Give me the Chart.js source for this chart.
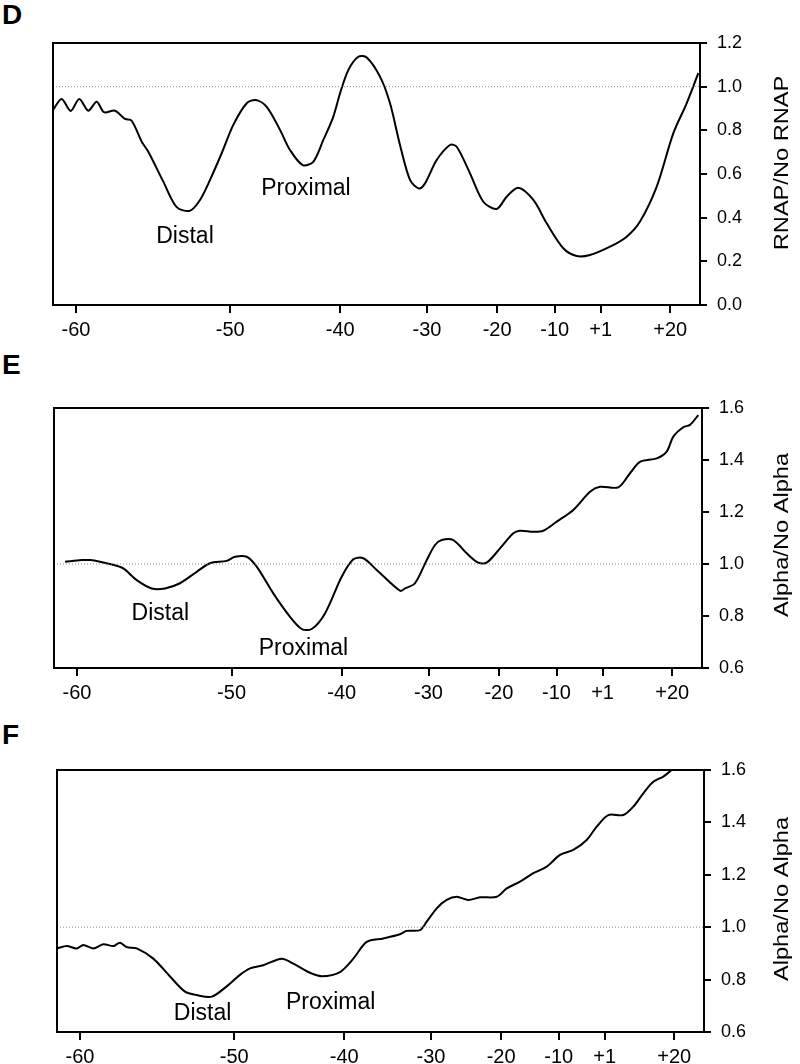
<!DOCTYPE html>
<html>
<head>
<meta charset="utf-8">
<title>RNAP / Alpha footprint ratios</title>
<script src="https://cdn.jsdelivr.net/npm/chart.js@4.4.0/dist/chart.umd.min.js"></script>
<style>
  body { margin: 0; background: #fff; }
  #page { position: relative; width: 800px; height: 1064px; font-family: "Liberation Sans", Arial, sans-serif; }
  .panel { position: absolute; left: 0; width: 800px; }
  .letter { position: absolute; left: 2px; font-size: 28px; font-weight: bold; line-height: 1; color: #000; }
</style>
</head>
<body>
<div id="page">
  <div class="letter" style="top:1px">D</div>
  <div class="panel" style="top:0;height:345px"><canvas id="chartD"></canvas></div>
  <div class="letter" style="top:351px">E</div>
  <div class="panel" style="top:345px;height:365px"><canvas id="chartE"></canvas></div>
  <div class="letter" style="top:721px">F</div>
  <div class="panel" style="top:710px;height:354px"><canvas id="chartF"></canvas></div>
</div>

<script>
// ----------------------------
// DATA (x = position along the gel lane, 0-100)
// ----------------------------
const tickLabels = ["-60", "-50", "-40", "-30", "-20", "-10", "+1", "+20"];
const tickPos = [3.55, 27.4, 44.4, 57.8, 68.65, 77.55, 84.65, 95.4];

const dPos = [0, 1.34, 2.74, 4.06, 5.46, 6.75, 7.88, 9.58, 11.13, 12.16,
  13.71, 14.73, 17.05, 19.12, 21.17, 22.72, 24.27, 26.07, 27.87, 29.94,
  31.38, 33.03, 35.09, 36.63, 38.59, 40.23, 41.78, 43.32, 44.36, 45.64,
  47.19, 48.49, 50.54, 52.09, 53.63, 55.18, 56.57, 57.5, 59.3, 61.36,
  62.4, 64.45, 66.51, 68.58, 70.12, 71.92, 74.24, 76.31, 78.87, 80.94,
  83.0, 86.09, 88.67, 90.73, 93.31, 95.87, 97.94, 99.74];
const dVal = [0.893, 0.944, 0.889, 0.944, 0.89, 0.931, 0.883, 0.89, 0.852, 0.844,
  0.748, 0.702, 0.565, 0.448, 0.432, 0.481, 0.573, 0.695, 0.825, 0.924,
  0.939, 0.908, 0.802, 0.71, 0.641, 0.656, 0.756, 0.862, 0.969, 1.076,
  1.137, 1.134, 1.046, 0.924, 0.733, 0.573, 0.534, 0.557, 0.664, 0.733,
  0.725, 0.603, 0.473, 0.44, 0.496, 0.537, 0.481, 0.374, 0.26, 0.224,
  0.229, 0.267, 0.313, 0.382, 0.542, 0.786, 0.924, 1.062];

const ePos = [1.7, 4.27, 5.56, 7.1, 8.64, 10.69, 12.76, 15.08, 17.13, 19.44,
  22.02, 24.07, 26.65, 27.93, 29.74, 31.28, 33.84, 36.42, 38.22, 39.77,
  41.82, 44.4, 46.19, 47.73, 49.8, 53.4, 54.17, 55.71, 57.52, 58.8,
  59.83, 61.62, 63.69, 65.48, 66.77, 68.83, 70.88, 71.91, 73.97, 75.51,
  77.58, 80.14, 82.72, 84.26, 87.08, 88.89, 90.43, 93.01, 94.55, 95.57,
  97.11, 98.15, 99.43];
const eVal = [1.009, 1.015, 1.015, 1.009, 1.0, 0.983, 0.938, 0.906, 0.906, 0.926,
  0.97, 1.003, 1.012, 1.028, 1.028, 0.99, 0.887, 0.797, 0.75, 0.75,
  0.81, 0.951, 1.018, 1.022, 0.977, 0.897, 0.906, 0.926, 1.015, 1.073,
  1.092, 1.092, 1.041, 1.005, 1.005, 1.06, 1.118, 1.128, 1.124, 1.128,
  1.163, 1.208, 1.278, 1.297, 1.295, 1.349, 1.393, 1.406, 1.432, 1.49,
  1.526, 1.535, 1.573];

const fPos = [0, 1.5, 3.04, 4.06, 5.61, 7.16, 8.7, 9.74, 10.77, 12.32,
  14.88, 17.47, 19.78, 21.59, 23.91, 26.23, 28.28, 29.83, 31.89, 34.73,
  36.52, 39.1, 40.91, 43.74, 45.8, 47.87, 50.43, 53.01, 54.05, 56.11,
  57.14, 58.69, 60.23, 61.78, 63.57, 65.38, 67.96, 69.51, 71.56, 73.62,
  75.69, 77.74, 79.8, 81.87, 83.42, 85.21, 87.53, 89.07, 90.62, 92.16,
  93.71, 95.01];
const fVal = [0.919, 0.928, 0.919, 0.932, 0.919, 0.935, 0.928, 0.941, 0.924, 0.919,
  0.88, 0.812, 0.754, 0.741, 0.735, 0.774, 0.818, 0.843, 0.855, 0.88,
  0.861, 0.826, 0.813, 0.829, 0.88, 0.944, 0.957, 0.973, 0.986, 0.989,
  1.021, 1.072, 1.104, 1.116, 1.104, 1.114, 1.116, 1.148, 1.174, 1.206,
  1.231, 1.276, 1.295, 1.333, 1.384, 1.428, 1.428, 1.46, 1.511, 1.555,
  1.575, 1.6];

// site labels placed in data units
const dNotes = [{ text: "Distal", x: 20.4, y: 0.313 }, { text: "Proximal", x: 39.1, y: 0.531 }];
const eNotes = [{ text: "Distal", x: 16.4, y: 0.808 }, { text: "Proximal", x: 38.5, y: 0.676 }];
const fNotes = [{ text: "Distal", x: 22.5, y: 0.669 }, { text: "Proximal", x: 42.3, y: 0.713 }];

const FONT = '"Liberation Sans", Arial, sans-serif';

// ----------------------------
// FRAME, SITE LABELS, RIGHT TITLE
// ----------------------------
const panelDecor = {
  id: "panelDecor",
  afterDraw(chart, args, opts) {
    const { ctx, chartArea: a, scales } = chart;
    ctx.save();
    ctx.strokeStyle = "#000";
    ctx.lineWidth = 2;
    ctx.strokeRect(a.left, a.top, a.right - a.left, a.bottom - a.top);

    ctx.fillStyle = "#000";
    ctx.textAlign = "center";
    ctx.textBaseline = "middle";
    ctx.font = "23px " + FONT;
    opts.notes.forEach((n) => {
      ctx.fillText(n.text, scales.x.getPixelForValue(n.x), scales.y.getPixelForValue(n.y));
    });

    // title reads upward, like the original
    ctx.translate(opts.titleX, (a.top + a.bottom) / 2 + opts.titleShift);
    ctx.rotate(-Math.PI / 2);
    ctx.scale(1.18, 1);
    ctx.font = "20px " + FONT;
    ctx.fillText(opts.title, 0, 0);
    ctx.restore();
  },
};

// ----------------------------
// PANEL BUILDER
// ----------------------------
function makePanel(id, pos, val, notes, cfg) {
  const trace = pos.map((x, i) => ({ x: x, y: val[i] }));
  return new Chart(document.getElementById(id), {
    type: "line",
    data: {
      datasets: [
        {
          data: [{ x: 0, y: 1 }, { x: 100, y: 1 }],
          borderColor: "#8a8a8a",
          borderWidth: 1,
          borderDash: [1, 2],
          pointRadius: 0,
        },
        {
          data: trace,
          borderColor: "#000",
          borderWidth: 2,
          pointRadius: 0,
          tension: 0.3,
        },
      ],
    },
    options: {
      responsive: true,
      maintainAspectRatio: false,
      animation: false,
      layout: { padding: { left: cfg.left, top: cfg.top, right: 0, bottom: 0 } },
      plugins: {
        legend: { display: false },
        tooltip: { enabled: false },
        panelDecor: { notes: notes, title: cfg.title, titleX: 782, titleShift: cfg.titleShift },
      },
      scales: {
        x: {
          type: "linear",
          min: 0,
          max: 100,
          afterBuildTicks: (axis) => {
            axis.ticks = tickPos.map((v) => ({ value: v }));
          },
          afterFit: (scale) => {
            scale.height = cfg.xHeight;
          },
          border: { display: false },
          grid: { drawOnChartArea: false, drawTicks: true, tickLength: 8, lineWidth: 2, color: "#000" },
          ticks: {
            autoSkip: false,
            maxRotation: 0,
            padding: 5,
            color: "#000",
            font: { family: FONT, size: 20 },
            callback: (value, index) => tickLabels[index],
          },
        },
        y: {
          position: "right",
          min: cfg.yMin,
          max: cfg.yMax,
          afterFit: (scale) => {
            scale.width = 800 - cfg.right;
          },
          border: { display: false },
          grid: { drawOnChartArea: false, drawTicks: true, tickLength: 7, lineWidth: 2, color: "#000" },
          ticks: {
            stepSize: 0.2,
            padding: 10,
            color: "#000",
            font: { family: FONT, size: 18 },
            callback: (v) => v.toFixed(1),
          },
        },
      },
    },
    plugins: [panelDecor],
  });
}

// ----------------------------
// PANELS D, E, F
// ----------------------------
makePanel("chartD", dPos, dVal, dNotes, {
  left: 53, top: 43, right: 700, xHeight: 40, yMin: 0, yMax: 1.2,
  title: "RNAP/No RNAP", titleShift: -11,
});
makePanel("chartE", ePos, eVal, eNotes, {
  left: 54, top: 63, right: 702, xHeight: 42, yMin: 0.6, yMax: 1.6,
  title: "Alpha/No Alpha", titleShift: -3,
});
makePanel("chartF", fPos, fVal, fNotes, {
  left: 57, top: 60, right: 704, xHeight: 32, yMin: 0.6, yMax: 1.6,
  title: "Alpha/No Alpha", titleShift: -2,
});
</script>
</body>
</html>
